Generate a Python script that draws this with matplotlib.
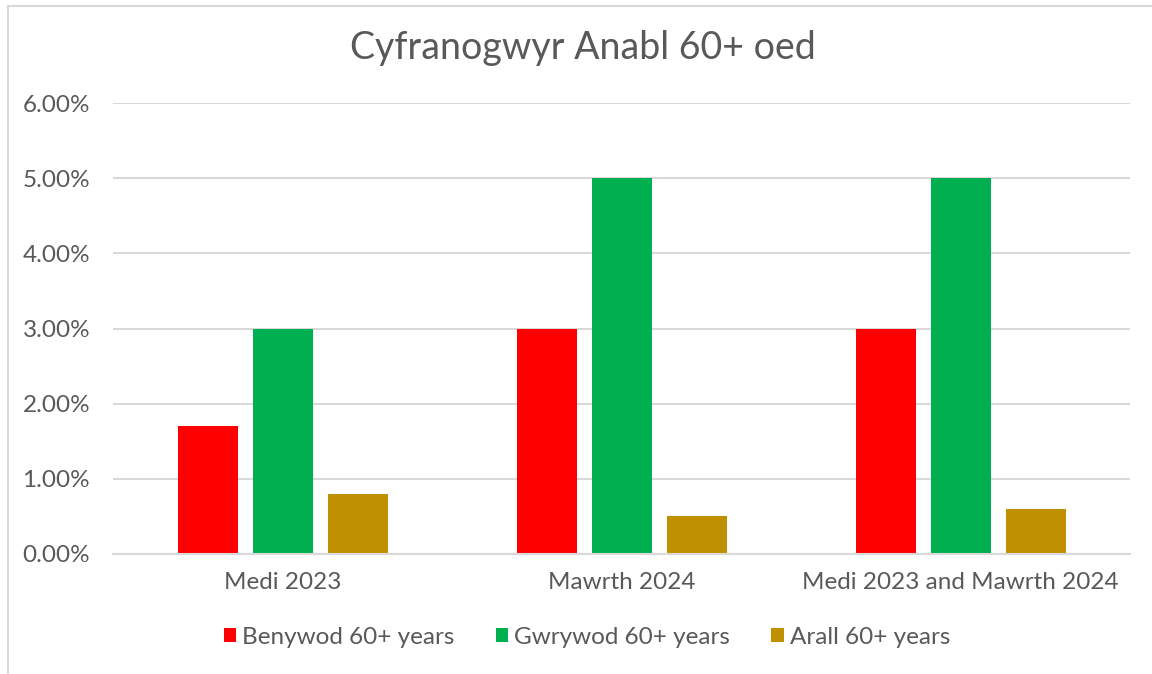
import matplotlib.pyplot as plt
from matplotlib.lines import Line2D
from matplotlib.ticker import PercentFormatter
import numpy as np

# data
categories = ['Medi 2023', 'Mawrth 2024', 'Medi 2023 and Mawrth 2024']
series_names = ['Benywod 60+ years', 'Gwrywod 60+ years', 'Arall 60+ years']
benywod = [0.017, 0.030, 0.030]
gwrywod = [0.030, 0.050, 0.050]
arall = [0.008, 0.005, 0.006]
colors = ['#ff0000', '#00b050', '#bf9000']

plt.rcParams['font.family'] = ['Lato', 'DejaVu Sans']
txt = '#595959'
grid = '#d9d9d9'

W, H = 1152, 674
fig = plt.figure(figsize=(W / 100, H / 100), dpi=100)
ax = fig.add_axes([113 / W, 1 - 554 / H, (1130 - 113) / W, (554 - 103) / H])

x = np.arange(len(categories))
width = 60 / 339
step = 75 / 339
for i, (vals, name) in enumerate(zip([benywod, gwrywod, arall], series_names)):
    ax.bar(x + (i - 1) * step, vals, width, color=colors[i], label=name, zorder=3)

ax.set_xlim(-0.5, len(categories) - 0.5)
ax.set_ylim(0, 0.06)
ax.set_yticks(np.arange(0, 0.061, 0.01))
ax.yaxis.set_major_formatter(PercentFormatter(1.0, decimals=2))
ax.set_xticks(x)
ax.set_xticklabels(categories)
ax.tick_params(axis='y', length=0, pad=16.5, labelsize=17.5, labelcolor=txt)
ax.tick_params(axis='x', length=0, pad=13, labelsize=17.5, labelcolor=txt)
ax.grid(axis='y', color=grid, linewidth=1.5, zorder=0)
for s in ['top', 'right', 'left']:
    ax.spines[s].set_visible(False)
ax.spines['bottom'].set_color(grid)
ax.spines['bottom'].set_linewidth(1.5)
ax.spines['bottom'].set_zorder(4)

fig.text(582.5 / W, 1 - 48 / H, 'Cyfranogwyr Anabl 60+ oed', ha='center', va='center',
         fontsize=27, color=txt)

ax.legend(loc='center', bbox_to_anchor=((587 - 113) / (1130 - 113), (554 - 637) / (554 - 103)),
          ncol=3, frameon=False, fontsize=17.5, labelcolor=txt,
          handlelength=0.5, handleheight=0.5, handletextpad=0.25, columnspacing=1.7)

# chart area border (left and top only visible)
fig.add_artist(Line2D([7.5 / W, 7.5 / W], [0, 1 - 5.5 / H], transform=fig.transFigure,
                      color=grid, linewidth=1.5))
fig.add_artist(Line2D([7.5 / W, 1], [1 - 5.5 / H, 1 - 5.5 / H], transform=fig.transFigure,
                      color=grid, linewidth=1.5))

fig.savefig('out.png', dpi=100, facecolor='white')
